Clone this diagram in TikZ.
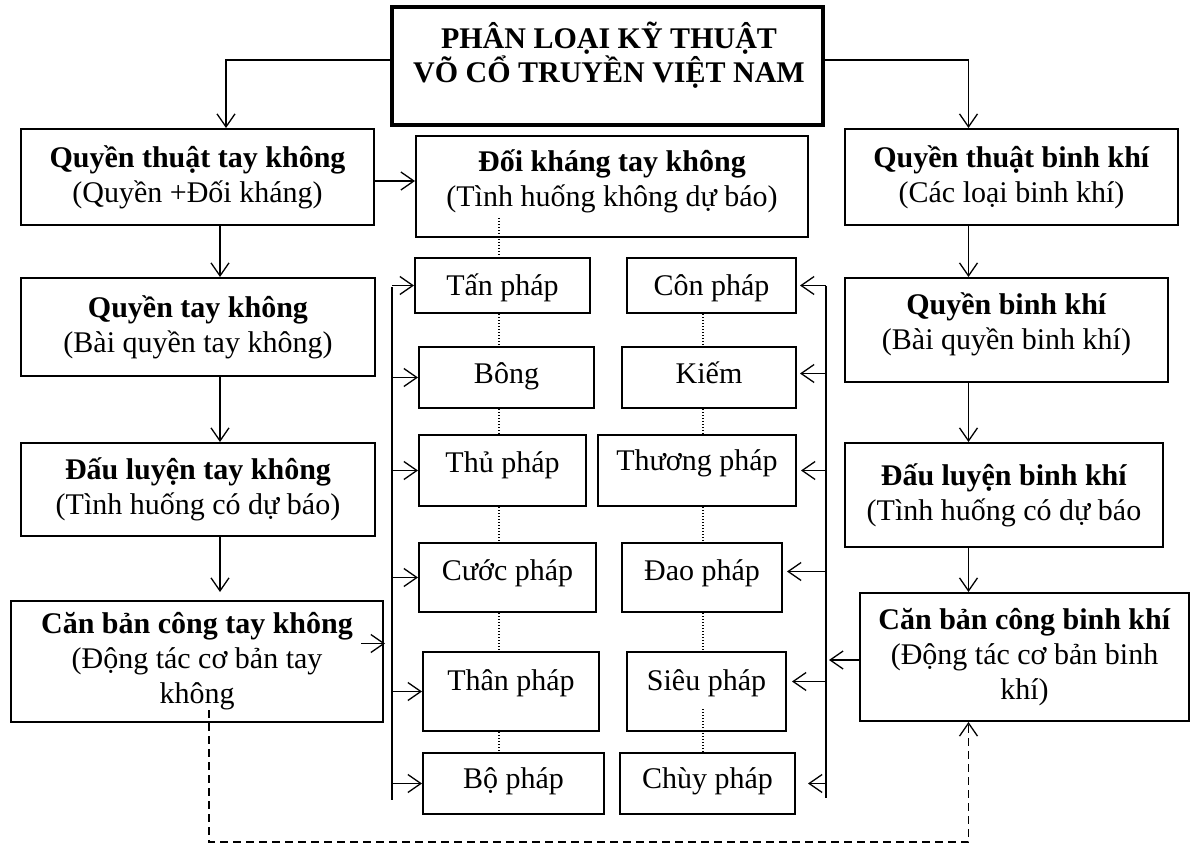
\documentclass[tikz,border=0pt]{standalone}
\usepackage{fontspec}
\setmainfont{Liberation Serif}
\usetikzlibrary{arrows.meta}

\begin{document}
\begin{tikzpicture}[x=1pt, y=-1pt, line width=1.3pt,
    >={Straight Barb[length=13pt,width=18pt]},
    font=\fontsize{30}{35}\selectfont,
    box/.style={draw, line width=2pt, inner sep=0pt, align=center},
    bus/.style={line width=1.5pt},
    dots/.style={line width=1.2pt, dash pattern=on 1.2pt off 1.8pt}]
    \useasboundingbox (0,0) rectangle (1192,845);

    % tieu de
    \node[box, line width=3.3pt, minimum width=431pt, minimum height=118pt] (title) at (607.5,66) {};
    \node[font=\fontsize{30}{34}\selectfont\bfseries, align=center] (titletext) at (609,55) {PHÂN LOẠI KỸ THUẬT\\VÕ CỔ TRUYỀN VIỆT NAM};

    % cot trai: tay khong
    \node[box, minimum width=353pt, minimum height=96pt] (q1) at (197.5,177) {\textbf{Quyền thuật tay không}\\(Quyền +Đối kháng)};
    \node[box, minimum width=354pt, minimum height=98pt] (q2) at (198,327) {\textbf{Quyền tay không}\\(Bài quyền tay không)};
    \node[box, minimum width=354pt, minimum height=93pt] (q3) at (198,489.5) {\textbf{Đấu luyện tay không}\\(Tình huống có dự báo)};
    \node[box, minimum width=372pt, minimum height=121pt] (q4) at (197,661.5) {\textbf{Căn bản công tay không}\\(Động tác cơ bản tay\\không};

    \node[box, minimum width=392pt, minimum height=101pt, text depth=17pt] (d0) at (612,186.5) {\textbf{Đối kháng tay không}\\(Tình huống không dự báo)};

    % cot phai: binh khi
    \node[box, minimum width=333pt, minimum height=96pt] (r1) at (1011.5,177) {\textbf{Quyền thuật binh khí}\\(Các loại binh khí)};
    \node[box, minimum width=323pt, minimum height=104pt, text depth=18pt] (r2) at (1006.5,330) {\textbf{Quyền binh khí}\\(Bài quyền binh khí)};
    \node[box, minimum width=318pt, minimum height=104pt] (r3) at (1004,495) {\textbf{Đấu luyện binh khí}\\(Tình huống có dự báo};
    \node[box, minimum width=329pt, minimum height=128pt] (r4) at (1024.5,657) {\textbf{Căn bản công binh khí}\\(Động tác cơ bản binh\\khí)};

    % cac phap (\b = text height, dat duong chan chu)
    \foreach \n/\x/\y/\w/\h/\b/\t in {t1/502.5/285.5/175/55/29/Tấn pháp, t2/506.5/377.5/175/61/21/Bông,
        t3/502.5/470.5/167/71/13/Thủ pháp, t4/507.5/577.5/177/69/15/Cước pháp,
        t5/511/691.5/176/79/7/Thân pháp, t6/513.5/783.5/181/61/19/Bộ pháp,
        c1/711.5/285.5/169/55/29/Côn pháp, c2/709/377.5/174/61/21/Kiếm,
        c3/697/470.5/198/71/9/Thương pháp, c4/702/577.5/160/69/15/Đao pháp,
        c5/706.5/691.5/159/79/7/Siêu pháp, c6/707.5/783.5/175/61/19/Chùy pháp}
        \node[box, minimum width=\w pt, minimum height=\h pt, text height=\b pt, text depth=10pt] (\n) at (\x,\y) {\t};

    \coordinate (ta) at (226,0);
    \coordinate (la) at (220,0);
    \coordinate (ra) at (968.5,0);
    \coordinate (lb) at (392,0);
    \coordinate (rb) at (826,0);
    \coordinate (dl) at (499,0);
    \coordinate (dr) at (703,0);

    \draw[->] ([yshift=6pt]title.west) -| (q1.north -| ta);
    \draw[->] ([yshift=6pt]title.east) -| (r1.north -| ra);
    \draw[->] ([yshift=-4pt]q1.east) -- ([yshift=-4pt]q1.east -| d0.west);

    \draw[->] (q1.south -| la) -- (q2.north -| la);
    \draw[->] (q2.south -| la) -- (q3.north -| la);
    \draw[->, shorten >=8pt] (q3.south -| la) -- (q4.north -| la);
    \draw[->] (r1.south -| ra) -- (r2.north -| ra);
    \draw[->] (r2.south -| ra) -- (r3.north -| ra);
    \draw[->] (r3.south -| ra) -- (r4.north -| ra);

    % duong cham
    \draw[dots] ([yshift=20pt]d0.south -| dl) -- (t1.north -| dl);
    \foreach \a/\b in {t1/t2, t2/t3, t3/t4, t4/t5, t5/t6}
        \draw[dots] (\a.south -| dl) -- (\b.north -| dl);
    \foreach \a/\b in {c1/c2, c2/c3, c3/c4, c4/c5}
        \draw[dots] (\a.south -| dr) -- (\b.north -| dr);
    \draw[dots] ([yshift=23pt]c5.south -| dr) -- (c6.north -| dr);

    % thanh doc hai ben
    \coordinate (lbtop) at (392,287);
    \coordinate (lbbot) at (392,800);
    \coordinate (rbtop) at (826,286);
    \coordinate (rbbot) at (826,798);
    \draw[bus] (lbtop) -- (lbbot);
    \draw[bus] (rbtop) -- (rbbot);
    \foreach \n in {t1, t2, t3, t4, t5, t6}
        \draw[->] (\n.west -| lb) -- (\n.west);
    \foreach \n/\s/\g in {c1/0/3, c2/4/3, c3/0/4, c4/6/4, c5/10/5, c6/0/12}
        \draw[->, shorten >=\g pt] ([yshift=\s pt]\n.east -| rb) -- ([yshift=\s pt]\n.east);

    \draw[->, shorten >=7pt] ([xshift=-23pt,yshift=18pt]q4.east) -- ([yshift=18pt]q4.east -| lb);
    \draw[->, shorten >=3pt] ([yshift=-3pt]r4.west) -- ([yshift=-3pt]r4.west -| rb);

    % net dut
    \coordinate (dtop) at (209,710);
    \coordinate (dbot) at (968.5,842);
    \draw[->, dash pattern=on 8pt off 5pt] (dtop) |- (dbot) -- (r4.south -| ra);
\end{tikzpicture}
\end{document}
